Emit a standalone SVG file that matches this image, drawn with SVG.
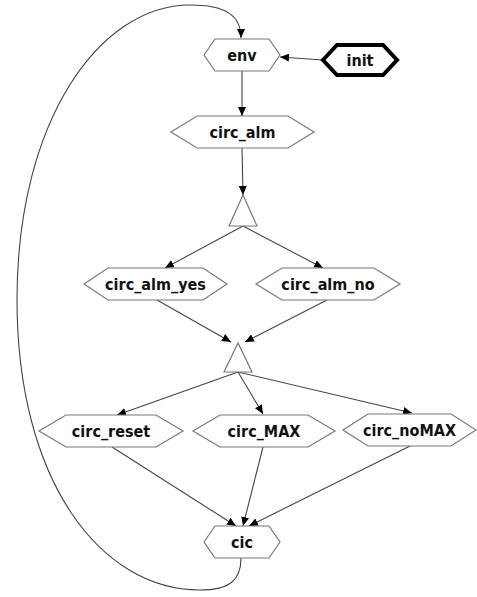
<svg xmlns="http://www.w3.org/2000/svg" width="477" height="597" viewBox="0 0 477 597">
<style>
.n{fill:#fff;stroke:#777;stroke-width:1.2}
.t{font-family:"DejaVu Sans Condensed","DejaVu Sans",sans-serif;font-weight:bold;font-size:16px;fill:#111;text-anchor:middle;dominant-baseline:central}
.e{fill:none;stroke:#444;stroke-width:1.1;marker-end:url(#a)}
.b{fill:#fff;stroke:#000;stroke-width:4}
</style>
<defs>
<marker id="a" markerUnits="userSpaceOnUse" markerWidth="10" markerHeight="8" refX="9" refY="4" orient="auto" viewBox="0 0 10 8">
<path d="M0,0L9,4L0,8z" fill="#000"/>
</marker>
</defs>
<rect width="477" height="597" fill="#fff"/>
<g id="connectors">
<path class="e" d="M242,71L242,116"/>
<path class="e" d="M323,60L280,57"/>
<path class="e" d="M242,148L243,195"/>
<path class="e" d="M243,226L165,268"/>
<path class="e" d="M243,226L323,268"/>
<path class="e" d="M157,300L231,342"/>
<path class="e" d="M327,300L245,342"/>
<path class="e" d="M238,372L117,415"/>
<path class="e" d="M238,372L263,414"/>
<path class="e" d="M238,372L412,413"/>
<path class="e" d="M112,447L236,526"/>
<path class="e" d="M263,447L243,526"/>
<path class="e" d="M410,446L249,526"/>
<path class="e" d="M241,558C241,580 230,590 200,590C100,590 17,480 17,300C17,120 100,5 190,5C225,5 241,15 241,38"/>
</g>
<g id="env"><polygon class="n" points="204,55 215,39 269,39 280,55 269,71 215,71"/><text class="t" x="242" y="55">env</text></g>
<g id="init"><polygon class="b" points="323,60 337,45 383,45 397,60 383,75 337,75"/><text class="t" x="360" y="60">init</text></g>
<g id="circ_alm"><polygon class="n" points="171,132 197,116 288,116 314,132 288,148 197,148"/><text class="t" x="242.5" y="132">circ_alm</text></g>
<g id="tri1"><polygon class="n" points="243,195 229,226 257,226"/></g>
<g id="circ_alm_yes"><polygon class="n" points="84,284 108,268 203,268 227,284 203,300 108,300"/><text class="t" x="155.5" y="284">circ_alm_yes</text></g>
<g id="circ_alm_no"><polygon class="n" points="256,284 282,268 374,268 400,284 374,300 282,300"/><text class="t" x="328" y="284">circ_alm_no</text></g>
<g id="tri2"><polygon class="n" points="238,343 224,372 252,372"/></g>
<g id="circ_reset"><polygon class="n" points="39,431 66,415 156,415 183,431 156,447 66,447"/><text class="t" x="111" y="431">circ_reset</text></g>
<g id="circ_MAX"><polygon class="n" points="193,431 220,415 308,415 335,431 308,447 220,447"/><text class="t" x="264" y="431">circ_MAX</text></g>
<g id="circ_noMAX"><polygon class="n" points="343,430 368,414 451,414 476,430 451,446 368,446"/><text class="t" x="409.5" y="430">circ_noMAX</text></g>
<g id="cic"><polygon class="n" points="204,542 215,526 269,526 280,542 269,558 215,558"/><text class="t" x="242" y="542">cic</text></g>
</svg>
